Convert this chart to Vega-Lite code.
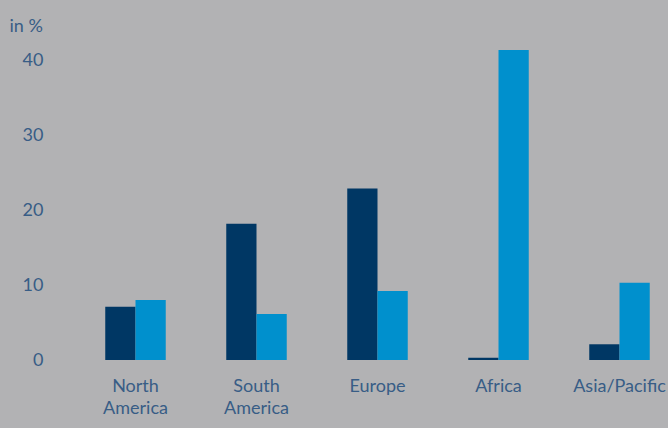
{
  "$schema": "https://vega.github.io/schema/vega-lite/v6.json",
  "width": 605,
  "height": 337,
  "autosize": "none",
  "padding": {"left": 75, "top": 23, "right": 0, "bottom": 68},
  "background": "#b2b2b4",
  "config": {"view": {"stroke": null}, "font": "Lato"},
  "data": {"values": [
    {"region": "North America", "series": "A", "value": 7.1},
    {"region": "North America", "series": "B", "value": 8.0},
    {"region": "South America", "series": "A", "value": 18.2},
    {"region": "South America", "series": "B", "value": 6.15},
    {"region": "Europe", "series": "A", "value": 22.9},
    {"region": "Europe", "series": "B", "value": 9.2},
    {"region": "Africa", "series": "A", "value": 0.3},
    {"region": "Africa", "series": "B", "value": 41.4},
    {"region": "Asia/Pacific", "series": "A", "value": 2.1},
    {"region": "Asia/Pacific", "series": "B", "value": 10.3}
  ]},
  "mark": {"type": "bar"},
  "encoding": {
    "x": {
      "field": "region", "type": "nominal", "sort": null,
      "scale": {"paddingInner": 0.5, "paddingOuter": 0.25},
      "axis": {
        "title": null, "domain": false, "ticks": false, "labelAngle": 0,
        "labelExpr": "split(datum.label, ' ')",
        "labelLineHeight": 22, "labelPadding": 26, "labelFontSize": 18,
        "labelColor": "#385d86", "labelBaseline": "middle", "labelFontWeight": "normal"
      }
    },
    "xOffset": {"field": "series", "type": "nominal", "scale": {"paddingInner": 0, "paddingOuter": 0}},
    "y": {
      "field": "value", "type": "quantitative",
      "scale": {"domain": [0, 45], "nice": false},
      "axis": {
        "values": [0, 10, 20, 30, 40], "grid": false, "domain": false, "ticks": false,
        "labelPadding": 32, "labelFontSize": 18, "labelColor": "#385d86", "labelFontWeight": "normal",
        "title": "in %", "titleAngle": 0, "titleAlign": "left", "titleBaseline": "middle",
        "titleX": -66, "titleY": 3, "titleFontSize": 18, "titleFontWeight": "normal",
        "titleColor": "#385d86"
      }
    },
    "color": {
      "field": "series", "type": "nominal",
      "scale": {"domain": ["A", "B"], "range": ["#003764", "#0090cd"]},
      "legend": null
    }
  }
}
